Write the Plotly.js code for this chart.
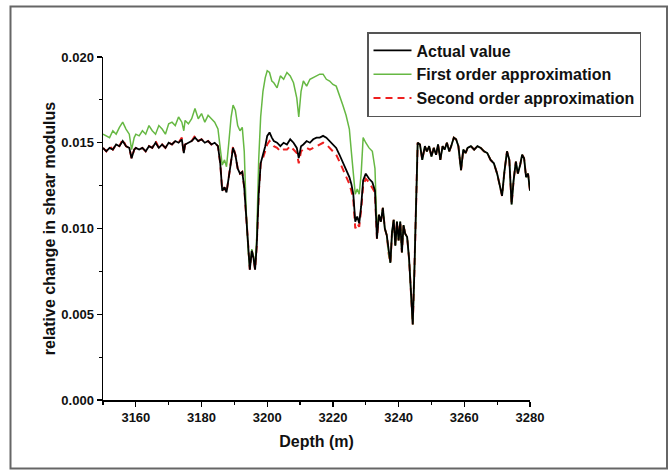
<!DOCTYPE html>
<html>
<head>
<meta charset="utf-8">
<script src="https://cdn.plot.ly/plotly-3.0.1.min.js"></script>
<style>html,body{margin:0;padding:0;background:#fff;}#chart{width:669px;height:470px;}</style>
</head>
<body>
<div id="chart"></div>
<script>
const depth = [3150,3151,3152,3153,3154,3155,3156,3157,3158,3158.7,3159.5,3160,3161,3162,3163,3164,3165,3166,3167,3168,3169,3170,3171,3172,3173,3174,3174.6,3175,3176,3177,3178,3179,3180,3181,3182,3183,3184,3185,3185.7,3186.3,3187,3187.6,3188.3,3189,3189.6,3190.3,3191,3191.7,3192.4,3193,3193.6,3194.2,3194.7,3195.3,3195.8,3196.3,3196.8,3197.4,3198,3198.7,3199.4,3200,3200.7,3201.4,3202,3203,3204,3205,3206,3207,3208,3209,3209.6,3210.3,3211,3212,3213,3214,3215,3216,3217,3218,3219,3220,3221,3222,3223,3224,3225,3225.6,3226.2,3226.8,3227.4,3228,3228.6,3229.2,3230,3231,3232,3232.8,3233.4,3234,3234.6,3235.2,3235.8,3236.4,3237,3237.5,3238,3238.5,3239,3239.5,3240,3240.5,3241,3241.5,3242,3242.6,3243.2,3243.8,3244.3,3244.8,3245.3,3245.8,3246.5,3247.2,3248,3248.6,3249.3,3250,3250.7,3251.4,3252,3252.7,3253.4,3254,3254.7,3255.4,3256,3256.8,3257.5,3258.2,3259,3259.7,3260.4,3261,3262,3263,3264,3265,3266,3267,3268,3269,3270,3270.8,3271.5,3272.2,3273,3273.7,3274.4,3275,3275.7,3276.3,3277,3277.6,3278.2,3278.8,3279.4,3280];

const actualValue = [0.0147,0.0145,0.0147,0.0146,0.0149,0.0148,0.0151,0.0148,0.0147,0.0141,0.0146,0.0147,0.0146,0.0147,0.0145,0.0148,0.0147,0.0150,0.0147,0.0149,0.0147,0.0150,0.0149,0.0151,0.0150,0.0152,0.0144,0.0149,0.0150,0.0151,0.0153,0.0151,0.0152,0.0150,0.0151,0.0149,0.0150,0.0148,0.0138,0.0122,0.0124,0.0121,0.0130,0.0140,0.0147,0.0143,0.0135,0.0132,0.0133,0.0124,0.0105,0.0085,0.0076,0.0087,0.0083,0.0076,0.0090,0.0120,0.0138,0.0143,0.0148,0.0154,0.0156,0.0153,0.0151,0.0150,0.0148,0.0150,0.0149,0.0152,0.0150,0.0147,0.0141,0.0148,0.0149,0.0151,0.0150,0.0152,0.0153,0.0153,0.0154,0.0153,0.0151,0.0149,0.0147,0.0143,0.0139,0.0134,0.0130,0.0126,0.0120,0.0104,0.0107,0.0103,0.0113,0.0128,0.0132,0.0129,0.0127,0.0122,0.0094,0.0108,0.0104,0.0112,0.0100,0.0096,0.0085,0.0080,0.0098,0.0105,0.0090,0.0104,0.0093,0.0104,0.0086,0.0102,0.0097,0.0095,0.0082,0.0060,0.0044,0.0075,0.0120,0.0150,0.0149,0.0140,0.0148,0.0145,0.0148,0.0142,0.0147,0.0143,0.0149,0.0140,0.0148,0.0146,0.0150,0.0145,0.0148,0.0153,0.0152,0.0148,0.0134,0.0146,0.0144,0.0147,0.0148,0.0146,0.0148,0.0147,0.0145,0.0144,0.0140,0.0138,0.0132,0.0125,0.0119,0.0133,0.0145,0.0140,0.0114,0.0128,0.0139,0.0132,0.0137,0.0143,0.0141,0.0130,0.0132,0.0122];

const firstOrder = [0.0155,0.0154,0.0153,0.0157,0.0155,0.0159,0.0162,0.0158,0.0155,0.0146,0.0153,0.0155,0.0154,0.0157,0.0155,0.0160,0.0157,0.0155,0.0160,0.0158,0.0155,0.0161,0.0162,0.0160,0.0165,0.0162,0.0157,0.0163,0.0161,0.0164,0.0170,0.0164,0.0167,0.0162,0.0166,0.0164,0.0162,0.0158,0.0145,0.0137,0.0140,0.0136,0.0150,0.0165,0.0172,0.0169,0.0160,0.0157,0.0159,0.0145,0.0110,0.0087,0.0077,0.0088,0.0084,0.0077,0.0095,0.0140,0.0165,0.0180,0.0188,0.0192,0.0191,0.0186,0.0185,0.0182,0.0189,0.0187,0.0191,0.0189,0.0185,0.0176,0.0165,0.0180,0.0186,0.0183,0.0187,0.0188,0.0189,0.0190,0.0190,0.0187,0.0186,0.0184,0.0183,0.0178,0.0172,0.0166,0.0158,0.0145,0.0130,0.0120,0.0123,0.0120,0.0132,0.0153,0.0150,0.0147,0.0145,0.0135,0.0100,0.0108,0.0104,0.0112,0.0100,0.0096,0.0085,0.0080,0.0098,0.0105,0.0090,0.0104,0.0093,0.0104,0.0086,0.0102,0.0097,0.0095,0.0082,0.0060,0.0044,0.0075,0.0120,0.0150,0.0149,0.0140,0.0148,0.0145,0.0148,0.0142,0.0147,0.0143,0.0149,0.0140,0.0148,0.0146,0.0150,0.0145,0.0148,0.0153,0.0152,0.0148,0.0134,0.0146,0.0144,0.0147,0.0148,0.0146,0.0148,0.0147,0.0145,0.0144,0.0140,0.0138,0.0132,0.0125,0.0119,0.0133,0.0145,0.0140,0.0114,0.0128,0.0139,0.0132,0.0137,0.0143,0.0141,0.0130,0.0132,0.0122];

const secondOrder = [0.0147,0.0145,0.0148,0.0146,0.0149,0.0148,0.0152,0.0148,0.0147,0.0141,0.0146,0.0147,0.0146,0.0147,0.0145,0.0148,0.0147,0.0151,0.0147,0.0149,0.0147,0.0150,0.0149,0.0151,0.0150,0.0153,0.0144,0.0149,0.0150,0.0151,0.0154,0.0151,0.0152,0.0150,0.0151,0.0149,0.0150,0.0148,0.0138,0.0122,0.0124,0.0121,0.0130,0.0141,0.0148,0.0143,0.0135,0.0132,0.0133,0.0124,0.0105,0.0085,0.0076,0.0087,0.0083,0.0076,0.0090,0.0120,0.0138,0.0141,0.0145,0.0149,0.0151,0.0149,0.0148,0.0147,0.0145,0.0146,0.0146,0.0148,0.0146,0.0144,0.0138,0.0145,0.0146,0.0147,0.0146,0.0147,0.0148,0.0149,0.0150,0.0149,0.0147,0.0145,0.0143,0.0139,0.0135,0.0130,0.0126,0.0122,0.0117,0.0100,0.0103,0.0101,0.0111,0.0125,0.0129,0.0127,0.0124,0.0121,0.0094,0.0108,0.0104,0.0112,0.0100,0.0096,0.0085,0.0080,0.0098,0.0105,0.0090,0.0104,0.0093,0.0104,0.0086,0.0102,0.0097,0.0095,0.0082,0.0060,0.0044,0.0075,0.0120,0.0150,0.0149,0.0140,0.0148,0.0145,0.0148,0.0142,0.0147,0.0143,0.0149,0.0140,0.0148,0.0146,0.0150,0.0145,0.0148,0.0153,0.0152,0.0148,0.0134,0.0146,0.0144,0.0147,0.0148,0.0146,0.0148,0.0147,0.0145,0.0144,0.0140,0.0138,0.0132,0.0125,0.0119,0.0133,0.0145,0.0140,0.0114,0.0128,0.0139,0.0132,0.0137,0.0143,0.0141,0.0130,0.0132,0.0122];

const seriesNames = ["Actual value", "First order approximation", "Second order approximation"];
const xTitle = "Depth (m)";
const yTitle = "relative change in shear modulus";
const yTickVals = [0, 0.005, 0.010, 0.015, 0.020];
const xTickVals = [3160, 3180, 3200, 3220, 3240, 3260, 3280];

const FONT = '"Liberation Sans", Arial, sans-serif';

// drawn bottom-to-top: second, first, actual; legend reversed so it reads actual, first, second
const traces = [
  {x: depth, y: secondOrder, name: seriesNames[2], type: 'scatter', mode: 'lines',
   line: {color: '#ee2020', width: 2, dash: '7px,5px'}},
  {x: depth, y: firstOrder, name: seriesNames[1], type: 'scatter', mode: 'lines',
   line: {color: '#66b843', width: 1.5}},
  {x: depth, y: actualValue, name: seriesNames[0], type: 'scatter', mode: 'lines',
   line: {color: '#000000', width: 1.8}}
];

const px = (v) => (v - 103) / 427;
const py = (v) => (400 - v) / 343;

const layout = {
  width: 669, height: 470,
  margin: {l: 103, r: 139, t: 57, b: 70, pad: 0},
  paper_bgcolor: '#ffffff', plot_bgcolor: '#ffffff',
  font: {family: FONT, color: '#111111', size: 13},
  showlegend: true,
  legend: {
    x: px(367), y: py(32), xanchor: 'left', yanchor: 'top',
    traceorder: 'reversed',
    bordercolor: '#555555', borderwidth: 1.5, bgcolor: 'rgba(255,255,255,0)',
    font: {family: FONT, size: 16, color: '#111111', weight: 'bold'},
    itemwidth: 38,
    tracegroupgap: 0
  },
  xaxis: {
    range: [3150, 3280], tickvals: xTickVals,
    showgrid: false, zeroline: false,
    showline: true, linecolor: '#000000', linewidth: 1.5,
    ticks: 'outside', ticklen: 5, tickwidth: 1.2, tickcolor: '#000000',
    minor: {tickvals: [3150,3170,3190,3210,3230,3250,3270], ticks: 'outside', ticklen: 3, tickwidth: 1.2, tickcolor: '#000000', showgrid: false},
    tickfont: {family: FONT, size: 13, color: '#111111', weight: 'bold'},
    title: {text: xTitle, font: {family: FONT, size: 16, color: '#111111', weight: 'bold'}, standoff: 11}
  },
  yaxis: {
    range: [0, 0.020], tickvals: yTickVals, tickformat: '.3f',
    showgrid: false, zeroline: false,
    showline: true, linecolor: '#000000', linewidth: 1.5,
    ticks: 'outside', ticklen: 5, tickwidth: 1.2, tickcolor: '#000000',
    minor: {tickvals: [0.0025, 0.0075, 0.0125, 0.0175], ticks: 'outside', ticklen: 3, tickwidth: 1.2, tickcolor: '#000000', showgrid: false},
    tickfont: {family: FONT, size: 13, color: '#111111', weight: 'bold'},
    title: {text: yTitle, font: {family: FONT, size: 16, color: '#111111', weight: 'bold'}, standoff: 2}
  },
  shapes: [
    {type: 'rect', xref: 'paper', yref: 'paper',
     x0: px(10.5), x1: px(667), y0: py(468.5), y1: py(6.5),
     line: {color: '#666666', width: 2}, fillcolor: 'rgba(0,0,0,0)'}
  ]
};

Plotly.newPlot('chart', traces, layout, {displayModeBar: false, staticPlot: true});
</script>
</body>
</html>
